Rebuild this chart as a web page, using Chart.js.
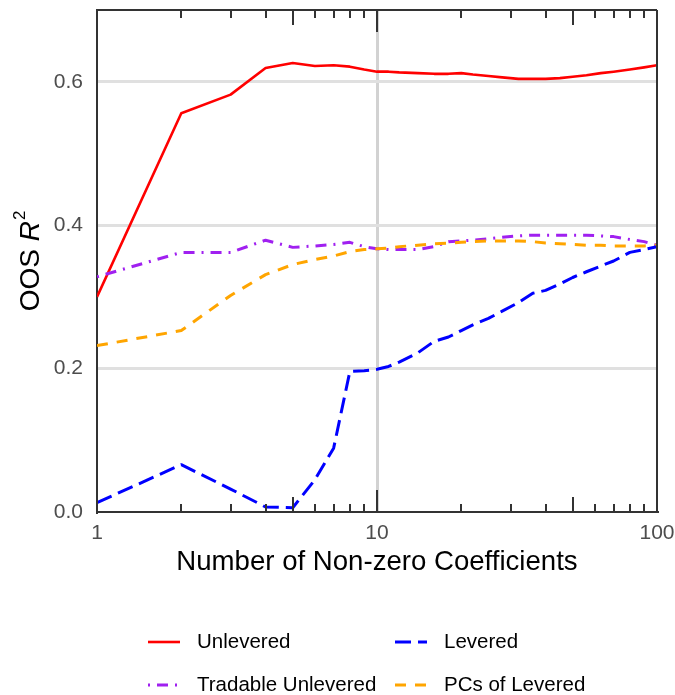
<!DOCTYPE html>
<html>
<head>
<meta charset="utf-8">
<script src="https://cdn.jsdelivr.net/npm/chart.js@4"></script>
<style>
  html, body { margin: 0; padding: 0; background: #ffffff; }
  #wrap { width: 675px; height: 695px; }
</style>
</head>
<body>
<div id="wrap"><canvas id="c" width="675" height="695"></canvas></div>
<script>
// ---- data ----
const nCoef = [1,2,3,4,5,6,7,8,9,10,11,12,14,16,18,20,22,25,28,32,36,40,45,50,56,63,70,80,90,100];
const unlevered = [0.300,0.556,0.582,0.619,0.626,0.622,0.623,0.621,0.617,0.614,0.614,0.613,0.612,0.611,0.611,0.612,0.610,0.608,0.606,0.604,0.604,0.604,0.605,0.607,0.609,0.612,0.614,0.617,0.620,0.623];
const levered = [0.013,0.066,0.032,0.007,0.006,0.045,0.089,0.196,0.197,0.199,0.203,0.209,0.222,0.238,0.244,0.253,0.261,0.270,0.280,0.292,0.305,0.309,0.318,0.327,0.335,0.343,0.350,0.362,0.366,0.370];
const tradableUnlevered = [0.328,0.362,0.362,0.379,0.369,0.371,0.373,0.376,0.370,0.367,0.366,0.366,0.366,0.370,0.377,0.378,0.379,0.381,0.383,0.385,0.386,0.386,0.386,0.386,0.386,0.385,0.384,0.380,0.377,0.372];
const pcsOfLevered = [0.232,0.253,0.302,0.331,0.345,0.352,0.357,0.363,0.366,0.367,0.368,0.370,0.372,0.374,0.375,0.376,0.377,0.378,0.378,0.378,0.377,0.375,0.374,0.373,0.372,0.372,0.371,0.371,0.371,0.372];
const seriesNames = ["Unlevered", "Levered", "Tradable Unlevered", "PCs of Levered"];
const xTickValues = [1, 10, 100];
const xMinorTickValues = [2,3,4,5,6,7,8,9,20,30,40,50,60,70,80,90];
const yTickValues = [0, 0.2, 0.4, 0.6];
const xTitle = "Number of Non-zero Coefficients";

const FONT = "'Liberation Sans', Arial, Helvetica, sans-serif";
const pts = arr => nCoef.map((n, i) => ({ x: n, y: arr[i] }));

const frameAndTicks = {
  id: 'frameAndTicks',
  afterDraw(chart) {
    const { ctx, chartArea: a, scales } = chart;
    const xs = scales.x;
    ctx.save();
    ctx.strokeStyle = '#333333';
    ctx.lineWidth = 2;
    ctx.beginPath();
    ctx.moveTo(a.left, a.top); ctx.lineTo(a.right, a.top);
    ctx.moveTo(a.right, a.top); ctx.lineTo(a.right, a.bottom);
    ctx.stroke();
    const all = xTickValues.concat(xMinorTickValues);
    all.forEach(v => {
      const lead = v / Math.pow(10, Math.floor(Math.log10(v) + 1e-9));
      const len = Math.abs(lead - 1) < 1e-9 ? 22 : (Math.abs(lead - 5) < 1e-9 ? 15 : 8);
      const px = Math.round(xs.getPixelForValue(v));
      ctx.beginPath();
      ctx.moveTo(px, a.top); ctx.lineTo(px, a.top + len);
      ctx.moveTo(px, a.bottom); ctx.lineTo(px, a.bottom - len);
      ctx.stroke();
    });
    // y title: OOS R^2
    const cy = (a.top + a.bottom) / 2;
    ctx.translate(31, cy);
    ctx.rotate(-Math.PI / 2);
    ctx.fillStyle = '#000000';
    ctx.textBaseline = 'middle';
    ctx.textAlign = 'left';
    const fN = "28px " + FONT, fI = "italic 28px " + FONT, fS = "17px " + FONT;
    ctx.font = fN; const w1 = ctx.measureText("OOS ").width;
    ctx.font = fI; const w2 = ctx.measureText("R").width;
    ctx.font = fS; const w3 = ctx.measureText("2").width;
    let x0 = -(w1 + w2 + w3 + 1) / 2;
    ctx.font = fN; ctx.fillText("OOS ", x0, 0);
    ctx.font = fI; ctx.fillText("R", x0 + w1, 0);
    ctx.font = fS; ctx.fillText("2", x0 + w1 + w2 + 1, -11);
    ctx.restore();

    // legend (2 x 2)
    ctx.save();
    const colX = [148, 395];
    const rowY = [642, 685];
    chart.data.datasets.forEach((ds, i) => {
      const col = i % 2, row = Math.floor(i / 2);
      const x = colX[col], y = rowY[row];
      ctx.strokeStyle = ds.borderColor;
      ctx.lineWidth = ds.borderWidth;
      ctx.lineCap = 'butt';
      ctx.setLineDash(ds.borderDash || []);
      ctx.beginPath();
      ctx.moveTo(x, y); ctx.lineTo(x + 32, y);
      ctx.stroke();
      ctx.setLineDash([]);
      ctx.fillStyle = '#000000';
      ctx.font = "20.5px " + FONT;
      ctx.textBaseline = 'middle';
      ctx.textAlign = 'left';
      ctx.fillText(ds.label, x + 49, y);
    });
    ctx.restore();
  }
};

new Chart(document.getElementById('c'), {
  type: 'line',
  data: {
    datasets: [
      { label: seriesNames[0], data: pts(unlevered), borderColor: '#ff0000', borderWidth: 2.6, borderDash: [], order: 4 },
      { label: seriesNames[1], data: pts(levered), borderColor: '#0000ff', borderWidth: 3, borderDash: [16, 7], order: 1 },
      { label: seriesNames[2], data: pts(tradableUnlevered), borderColor: '#a020f0', borderWidth: 3, borderDash: [2, 7, 11, 7], order: 3 },
      { label: seriesNames[3], data: pts(pcsOfLevered), borderColor: '#ffa500', borderWidth: 3, borderDash: [11, 9], order: 2 }
    ]
  },
  options: {
    responsive: false,
    animation: false,
    parsing: true,
    elements: { point: { radius: 0 }, line: { tension: 0, borderCapStyle: 'butt', borderJoinStyle: 'round' } },
    layout: { padding: { top: 10, right: 18, left: 0, bottom: 0 } },
    plugins: { legend: { display: false }, tooltip: { enabled: false } },
    scales: {
      x: {
        type: 'logarithmic', min: 1, max: 100,
        afterBuildTicks: s => { s.ticks = xTickValues.map(v => ({ value: v, major: true })); },
        afterFit: s => { s.height = 183; s.paddingLeft = 0; s.paddingRight = 0; },
        ticks: { callback: v => String(v), color: '#4d4d4d', font: { family: FONT, size: 21 }, padding: 9, maxRotation: 0, autoSkip: false },
        grid: { drawTicks: false, lineWidth: 3, color: c => (c.tick && c.tick.value === 10) ? '#d2d2d2' : 'rgba(0,0,0,0)' },
        border: { display: true, color: '#333333', width: 2 },
        title: { display: true, text: xTitle, color: '#000000', font: { family: FONT, size: 27.6 }, padding: { top: 0, bottom: 116 } }
      },
      y: {
        min: 0, max: 0.7,
        afterBuildTicks: s => { s.ticks = yTickValues.map(v => ({ value: v })); },
        afterFit: s => { s.width = 97; s.paddingTop = 0; s.paddingBottom = 0; },
        ticks: { callback: v => Number(v).toFixed(1), color: '#4d4d4d', font: { family: FONT, size: 21 }, padding: 14 },
        grid: { drawTicks: false, lineWidth: 3, color: c => (c.tick && c.tick.value === 0) ? 'rgba(0,0,0,0)' : '#e0e0e0' },
        border: { display: true, color: '#333333', width: 2 }
      }
    }
  },
  plugins: [frameAndTicks]
});
</script>
</body>
</html>
